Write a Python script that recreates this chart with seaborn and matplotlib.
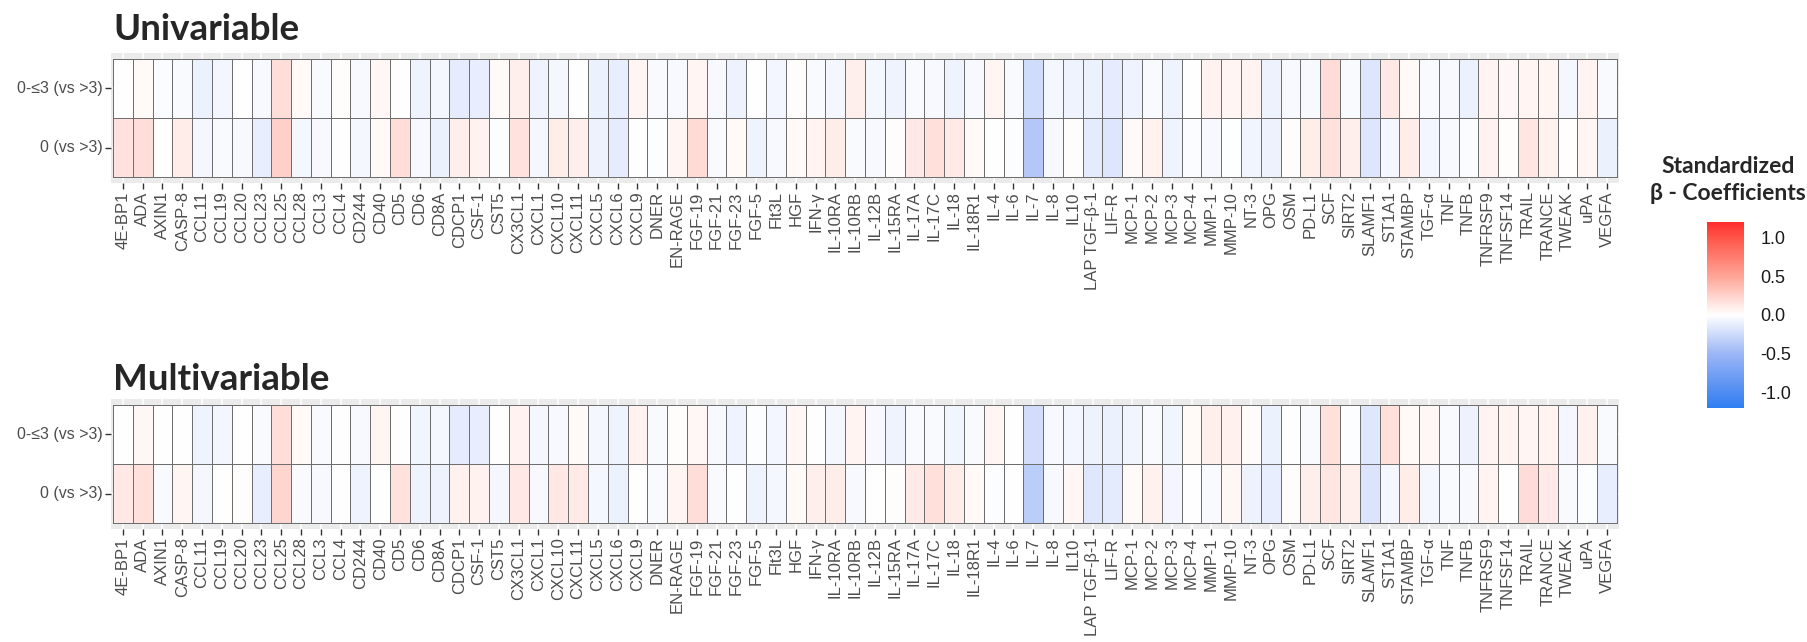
import matplotlib
matplotlib.use("Agg")
import matplotlib.pyplot as plt
from matplotlib.colors import LinearSegmentedColormap
from matplotlib.ticker import FuncFormatter
import pandas as pd
import seaborn as sns

# proteins on the x axis
markers = [
    "4E-BP1", "ADA", "AXIN1", "CASP-8", "CCL11", "CCL19", "CCL20", "CCL23", "CCL25", "CCL28",
    "CCL3", "CCL4", "CD244", "CD40", "CD5", "CD6", "CD8A", "CDCP1", "CSF-1", "CST5",
    "CX3CL1", "CXCL1", "CXCL10", "CXCL11", "CXCL5", "CXCL6", "CXCL9", "DNER", "EN-RAGE", "FGF-19",
    "FGF-21", "FGF-23", "FGF-5", "Flt3L", "HGF", "IFN-γ", "IL-10RA", "IL-10RB", "IL-12B", "IL-15RA",
    "IL-17A", "IL-17C", "IL-18", "IL-18R1", "IL-4", "IL-6", "IL-7", "IL-8", "IL10", "LAP TGF-β-1",
    "LIF-R", "MCP-1", "MCP-2", "MCP-3", "MCP-4", "MMP-1", "MMP-10", "NT-3", "OPG", "OSM",
    "PD-L1", "SCF", "SIRT2", "SLAMF1", "ST1A1", "STAMBP", "TGF-α", "TNF", "TNFB", "TNFRSF9",
    "TNFSF14", "TRAIL", "TRANCE", "TWEAK", "uPA", "VEGFA",
]
groups = ["0-≤3 (vs >3)", "0 (vs >3)"]

# standardized beta coefficients
uni_le3 = [
    0.00, 0.03, -0.02, -0.03, -0.10, -0.06, 0.00, -0.04, 0.18, 0.03,
    -0.03, 0.01, -0.04, 0.04, 0.00, -0.08, -0.05, -0.13, -0.12, 0.03,
    0.09, -0.08, -0.05, 0.00, -0.10, -0.12, 0.05, -0.03, -0.04, 0.05,
    -0.04, -0.09, 0.00, -0.06, 0.01, -0.03, -0.05, 0.09, -0.05, -0.08,
    -0.03, -0.04, -0.08, -0.04, 0.05, -0.03, -0.24, -0.05, -0.08, -0.10,
    -0.13, -0.08, -0.03, -0.08, 0.00, 0.07, 0.05, 0.06, -0.09, -0.04,
    -0.04, 0.19, -0.03, -0.17, 0.13, 0.03, -0.03, -0.04, -0.10, 0.06,
    0.04, 0.05, 0.05, -0.05, 0.06, -0.03,
]
uni_0 = [
    0.16, 0.18, 0.00, 0.10, -0.05, -0.03, -0.04, -0.12, 0.26, -0.05,
    -0.04, 0.00, -0.05, 0.03, 0.18, -0.04, -0.10, 0.09, 0.07, -0.01,
    0.16, -0.05, 0.10, 0.09, -0.09, -0.13, 0.00, -0.01, 0.05, 0.20,
    -0.03, 0.03, -0.08, -0.04, 0.03, 0.06, 0.10, -0.03, -0.04, 0.01,
    0.13, 0.17, 0.12, 0.03, 0.00, -0.01, -0.38, -0.04, 0.01, -0.14,
    -0.17, 0.03, 0.07, -0.08, -0.02, -0.04, 0.00, -0.07, -0.09, 0.01,
    0.10, 0.16, 0.09, -0.17, -0.05, 0.10, -0.06, -0.04, -0.02, 0.07,
    0.01, 0.14, 0.08, 0.00, 0.05, -0.10,
]
multi_le3 = [
    0.00, 0.04, 0.00, 0.00, -0.08, -0.06, 0.00, -0.03, 0.18, 0.03,
    -0.03, 0.00, -0.04, 0.05, 0.00, -0.07, -0.05, -0.13, -0.12, 0.00,
    0.07, -0.05, -0.04, 0.03, -0.05, -0.08, 0.07, -0.03, 0.01, 0.04,
    -0.04, -0.08, -0.01, -0.06, 0.04, 0.00, -0.05, 0.06, -0.04, -0.08,
    -0.03, -0.03, -0.07, -0.03, 0.05, 0.00, -0.23, -0.04, -0.06, -0.09,
    -0.10, -0.07, -0.03, -0.07, 0.03, 0.09, 0.08, 0.02, -0.10, 0.00,
    -0.03, 0.17, -0.01, -0.16, 0.17, 0.03, 0.04, -0.03, -0.09, 0.06,
    0.06, 0.05, 0.06, -0.05, 0.08, -0.03,
]
multi_0 = [
    0.13, 0.17, -0.03, 0.05, -0.05, 0.00, 0.01, -0.12, 0.23, -0.03,
    -0.04, 0.00, -0.08, 0.00, 0.16, -0.08, -0.09, 0.08, 0.07, -0.05,
    0.13, -0.04, 0.13, 0.12, -0.05, -0.10, 0.00, -0.03, 0.05, 0.18,
    -0.03, 0.00, -0.08, -0.05, 0.03, 0.09, 0.10, -0.04, 0.00, 0.01,
    0.12, 0.17, 0.10, 0.03, -0.01, 0.00, -0.34, -0.04, 0.04, -0.16,
    -0.14, 0.03, 0.08, -0.06, 0.00, -0.03, 0.04, -0.09, -0.12, 0.01,
    0.09, 0.14, 0.09, -0.18, -0.05, 0.10, -0.05, -0.03, -0.04, 0.06,
    0.00, 0.19, 0.12, -0.03, -0.01, -0.12,
]

sns.set_style("white")
plt.rcParams["font.family"] = ["Liberation Sans", "DejaVu Sans"]

# blue - white - red, roughly like ggplot's gradient2
cmap = LinearSegmentedColormap.from_list("beta", [
    (0.0, "#2F7EF2"),
    (0.0833, "#4F8CF2"),
    (0.2917, "#9CB6F6"),
    (0.5, "#FFFFFF"),
    (0.7083, "#FFA597"),
    (0.9167, "#FF5549"),
    (1.0, "#FF2E2E"),
])
vlim = 1.2

fig = plt.figure(figsize=(18.08, 6.42), dpi=100)
W, H = 1808, 642


def draw_panel(ax, le3, zero):
    df = pd.DataFrame([le3, zero], index=groups, columns=markers)
    sns.heatmap(df, ax=ax, cmap=cmap, vmin=-vlim, vmax=vlim, cbar=False,
                linewidths=0.6, linecolor="#6E6E6E")
    ax.set_facecolor("#EBEBEB")
    ax.set_xlim(-0.1, len(markers) + 0.1)
    ax.set_ylim(2.1, -0.1)
    ax.grid(True, color="white", lw=1.1)
    ax.set_axisbelow(True)
    for s in ax.spines.values():
        s.set_visible(False)
    ax.tick_params(axis="both", length=4, width=1, color="#333333",
                   labelcolor="#4D4D4D", pad=2, left=True, bottom=True)
    ax.tick_params(axis="x", labelsize=12, labelrotation=90)
    ax.tick_params(axis="y", labelsize=11.5, labelrotation=0)
    ax.set_xlabel("")
    ax.set_ylabel("")
    return ax.collections[0]


ax_top = fig.add_axes([111 / W, 1 - 183 / H, 1508 / W, 130 / H])
mesh = draw_panel(ax_top, uni_le3, uni_0)
ax_bot = fig.add_axes([111 / W, 1 - 529 / H, 1508 / W, 130 / H])
draw_panel(ax_bot, multi_le3, multi_0)

title_font = ["Lato", "DejaVu Sans"]
fig.text(113 / W, 1 - 40 / H, "Univariable", fontsize=26.5, fontweight="bold",
         family=title_font, va="baseline")
fig.text(113 / W, 1 - 390 / H, "Multivariable", fontsize=26.5, fontweight="bold",
         family=title_font, va="baseline")

# colour bar legend
cax = fig.add_axes([1707 / W, 1 - 408 / H, 37 / W, 186 / H])
cb = fig.colorbar(mesh, cax=cax, ticks=[-1.0, -0.5, 0.0, 0.5, 1.0])
cb.outline.set_visible(False)
cax.yaxis.set_major_formatter(FuncFormatter(lambda v, pos: f"{v:.1f}"))
cax.tick_params(direction="in", length=7, width=1, color="white", left=True, right=True,
                labelsize=13, labelcolor="#1A1A1A", pad=12)
fig.text(1728 / W, 1 - 180 / H, "Standardized\nβ - Coefficients", ha="center", va="center",
         fontsize=16.5, fontweight="bold", family=title_font, linespacing=1.3)

fig.savefig("out.png", dpi=100)
